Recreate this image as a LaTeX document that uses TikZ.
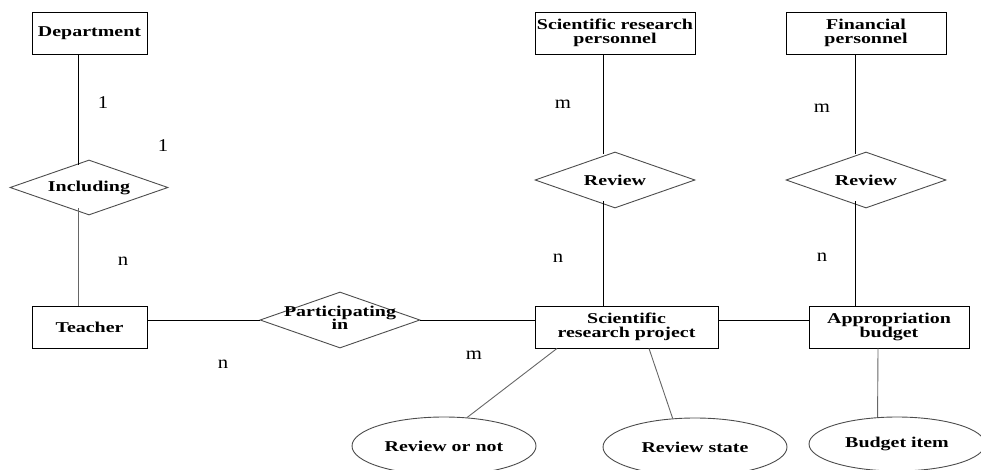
\documentclass[tikz,border=0pt]{standalone}
\usepackage{fontspec}
\setmainfont{Liberation Serif}
\newfontfamily\erfont[FakeStretch=1.33]{Liberation Serif}
\newfontfamily\lblfont[FakeStretch=1.15]{Liberation Serif}
\usetikzlibrary{shapes.geometric}
\begin{document}
\begin{tikzpicture}[x=1pt,y=-1pt,
  txt/.style={font=\erfont\bfseries\fontsize{15}{13.5}\selectfont, align=center},
  ent/.style={txt, draw=black, line width=0.9pt, rectangle, inner sep=0pt, minimum height=42pt},
  rel/.style={txt, draw=black!70, line width=0.9pt, diamond, inner sep=0pt, aspect=2.8, minimum width=160pt, minimum height=56pt},
  attr/.style={txt, draw=black!70, line width=0.9pt, ellipse, inner sep=0pt, minimum width=184pt, minimum height=58pt},
  card/.style={font=\lblfont\fontsize{18}{18}\selectfont, inner sep=0pt},
  conn/.style={line width=0.9pt, draw=black},
  gconn/.style={line width=0.9pt, draw=black!60}]
\useasboundingbox (0,0) rectangle (981,470);

% entities
\node[ent, minimum width=115pt] (dept) at (89.5,33) {Department};
\node[ent, minimum width=160pt] (pers) at (615,33) {Scientific research\\personnel};
\node[ent, minimum width=160pt] (fin) at (866,33) {Financial\\personnel};
\node[ent, minimum width=115pt] (teacher) at (89.5,327) {Teacher};
\node[ent, minimum width=183pt] (proj) at (626.5,327) {Scientific\\research project};
\node[ent, minimum width=160pt] (approp) at (889,327) {Appropriation\\budget};

% relationships
\node[rel, minimum width=158pt, minimum height=55pt] (incl) at (89,187.5) {Including};
\node[rel] (rev1) at (615,180) {Review};
\node[rel] (rev2) at (866,180) {Review};
\node[rel] (part) at (340,320) {\makebox[0pt]{\begin{tabular}{@{}c@{}}Participating\\[-1pt]in\end{tabular}}};

% attributes
\node[attr] (rnot) at (444,446) {Review or not};
\node[attr] (rstate) at (695,447) {Review state};
\node[attr, minimum width=176pt, minimum height=54pt] (bitem) at (897,444) {Budget item};

% connectors
\draw[conn] ([xshift=-11.5pt]dept.south) -- ([xshift=-11pt,yshift=-5pt]incl.north);
\draw[gconn] ([xshift=-11pt,yshift=7pt]incl.south) -- ([xshift=-11.5pt]teacher.north);
\draw[conn] ([yshift=7pt]teacher.east) -- (part.west);
\draw[conn] (part.east) -- ([yshift=7pt]proj.west);
\draw[conn] ([yshift=7pt]proj.east) -- ([yshift=7pt]approp.west);
\draw[conn] ([xshift=-12pt]pers.south) -- ([xshift=-12pt,yshift=-2pt]rev1.north);
\coordinate (r1b) at ([xshift=-12pt,yshift=7pt]rev1.south);
\draw[conn] (r1b) -- (r1b |- proj.north);
\draw[conn] ([xshift=-11pt]fin.south) -- ([xshift=-11pt,yshift=-2pt]rev2.north);
\coordinate (r2b) at ([xshift=-11pt,yshift=7pt]rev2.south);
\draw[conn] (r2b) -- (r2b |- approp.north);
\draw[gconn] ([xshift=-69.5pt]proj.south) -- (rnot.51);
\draw[gconn] ([xshift=22.5pt]proj.south) -- (rstate.128);
\draw[gconn] ([xshift=-11pt]approp.south) -- (bitem.126);

% cardinalities
\node[card] (c1) at (103,103) {1};
\node[card] (c2) at (163,146) {1};
\node[card] (c3) at (123,261) {n};
\node[card] (c4) at (223,364) {n};
\node[card] (c5) at (474,355) {m};
\node[card] (c6) at (563,104) {m};
\node[card] (c7) at (558,258) {n};
\node[card] (c8) at (822,108) {m};
\node[card] (c9) at (822,257) {n};
\end{tikzpicture}
\end{document}
